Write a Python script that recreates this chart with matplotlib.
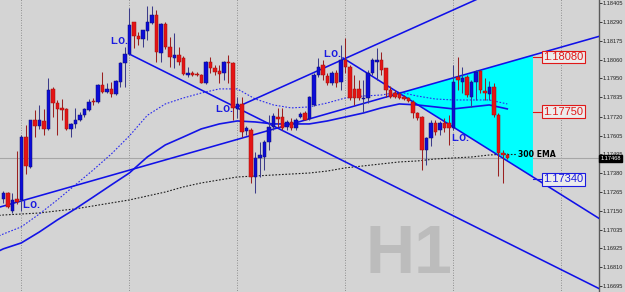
import matplotlib
matplotlib.use("Agg")
import matplotlib.pyplot as plt
import matplotlib.transforms as mtransforms
from matplotlib.patches import Polygon
import numpy as np

# ---------------- data ----------------
bar_index = list(range(-4, 109))
open_ = [1.17221, 1.17257, 1.17148, 1.17221, 1.17215, 1.17596, 1.17415, 1.17699, 1.17663, 1.17693,
         1.17645, 1.17887, 1.17802, 1.17772, 1.17766, 1.17645, 1.17675, 1.17699, 1.17729, 1.17760,
         1.17814, 1.17808, 1.17911, 1.17868, 1.17887, 1.17856, 1.17929, 1.18044, 1.18098, 1.18292,
         1.18207, 1.18189, 1.18237, 1.18286, 1.18334, 1.18104, 1.18280, 1.18141, 1.18074, 1.18092,
         1.18074, 1.17971, 1.17983, 1.17977, 1.17971, 1.17923, 1.18050, 1.18014, 1.17995, 1.17983,
         1.18050, 1.18044, 1.17766, 1.17796, 1.17632, 1.17639, 1.17354, 1.17469, 1.17475, 1.17566,
         1.17657, 1.17717, 1.17717, 1.17657, 1.17687, 1.17651, 1.17717, 1.17741, 1.17705, 1.17790,
         1.17971, 1.18032, 1.17965, 1.17923, 1.17983, 1.17929, 1.18062, 1.18020, 1.17887, 1.17887,
         1.17826, 1.17832, 1.17983, 1.18050, 1.18062, 1.18014, 1.17881, 1.17862, 1.17856, 1.17838,
         1.17832, 1.17808, 1.17741, 1.17717, 1.17518, 1.17590, 1.17681, 1.17639, 1.17681, 1.17681,
         1.17651, 1.17959, 1.17929, 1.17959, 1.17838, 1.17929, 1.17995, 1.17874, 1.17856, 1.17899,
         1.17729, 1.17499, 1.17487]
high = [1.17269, 1.17263, 1.17257, 1.17511, 1.17608, 1.17669, 1.17699, 1.17760, 1.17790, 1.17766,
        1.17953, 1.17899, 1.17820, 1.17826, 1.17772, 1.17681, 1.17772, 1.17747, 1.17772, 1.17826,
        1.17832, 1.17917, 1.17989, 1.17923, 1.17929, 1.17941, 1.18050, 1.18141, 1.18377, 1.18292,
        1.18231, 1.18244, 1.18389, 1.18389, 1.18365, 1.18286, 1.18292, 1.18201, 1.18225, 1.18141,
        1.18086, 1.18020, 1.17995, 1.17989, 1.17977, 1.18056, 1.18080, 1.18032, 1.18032, 1.18056,
        1.18092, 1.18050, 1.17838, 1.17838, 1.17663, 1.17651, 1.17505, 1.17566, 1.17578, 1.17729,
        1.17741, 1.17772, 1.17772, 1.17699, 1.17711, 1.17711, 1.17747, 1.17753, 1.17844, 1.17983,
        1.18074, 1.18062, 1.17983, 1.17995, 1.18002, 1.18153, 1.18195, 1.18032, 1.17971, 1.17941,
        1.17941, 1.18002, 1.18074, 1.18135, 1.18110, 1.18014, 1.17905, 1.17881, 1.17868, 1.17850,
        1.17838, 1.17820, 1.17747, 1.17723, 1.17596, 1.17699, 1.17699, 1.17693, 1.17711, 1.17729,
        1.18032, 1.18080, 1.18020, 1.17971, 1.17941, 1.18002, 1.18002, 1.17953, 1.17935, 1.17923,
        1.17741, 1.17518, 1.17499]
low = [1.17197, 1.17167, 1.17136, 1.17191, 1.17148, 1.17372, 1.17409, 1.17596, 1.17645, 1.17608,
       1.17639, 1.17717, 1.17608, 1.17699, 1.17639, 1.17596, 1.17651, 1.17693, 1.17717, 1.17753,
       1.17790, 1.17802, 1.17862, 1.17862, 1.17838, 1.17850, 1.17899, 1.17899, 1.18092, 1.18135,
       1.18153, 1.18141, 1.18183, 1.18280, 1.18050, 1.18050, 1.18129, 1.18020, 1.18014, 1.18032,
       1.17971, 1.17959, 1.17965, 1.17965, 1.17923, 1.17917, 1.17983, 1.17971, 1.17923, 1.17941,
       1.17923, 1.17699, 1.17711, 1.17596, 1.17608, 1.17318, 1.17257, 1.17354, 1.17397, 1.17518,
       1.17639, 1.17657, 1.17639, 1.17639, 1.17639, 1.17639, 1.17711, 1.17699, 1.17699, 1.17784,
       1.17959, 1.17941, 1.17911, 1.17911, 1.17899, 1.17881, 1.17983, 1.17820, 1.17790, 1.17820,
       1.17747, 1.17802, 1.17971, 1.17941, 1.17971, 1.17838, 1.17832, 1.17832, 1.17826, 1.17820,
       1.17808, 1.17711, 1.17699, 1.17397, 1.17427, 1.17542, 1.17608, 1.17608, 1.17626, 1.17548,
       1.17639, 1.17881, 1.17862, 1.17838, 1.17778, 1.17820, 1.17862, 1.17820, 1.17820, 1.17717,
       1.17360, 1.17318, 1.17463]
close = [1.17257, 1.17173, 1.17215, 1.17203, 1.17596, 1.17421, 1.17699, 1.17663, 1.17699, 1.17645,
         1.17881, 1.17802, 1.17766, 1.17760, 1.17645, 1.17675, 1.17699, 1.17729, 1.17766, 1.17808,
         1.17808, 1.17911, 1.17868, 1.17887, 1.17856, 1.17935, 1.18044, 1.18098, 1.18274, 1.18207,
         1.18189, 1.18244, 1.18292, 1.18334, 1.18110, 1.18280, 1.18141, 1.18080, 1.18092, 1.18050,
         1.17977, 1.17983, 1.17971, 1.17971, 1.17923, 1.18050, 1.18014, 1.17989, 1.17977, 1.18050,
         1.18044, 1.17772, 1.17796, 1.17626, 1.17651, 1.17354, 1.17469, 1.17487, 1.17566, 1.17657,
         1.17723, 1.17705, 1.17651, 1.17687, 1.17651, 1.17699, 1.17735, 1.17699, 1.17838, 1.17971,
         1.18020, 1.17971, 1.17923, 1.17983, 1.17923, 1.18062, 1.18020, 1.17832, 1.17832, 1.17832,
         1.17832, 1.17983, 1.18062, 1.18062, 1.18002, 1.17881, 1.17838, 1.17838, 1.17832, 1.17826,
         1.17814, 1.17741, 1.17711, 1.17518, 1.17590, 1.17681, 1.17626, 1.17681, 1.17651, 1.17651,
         1.17929, 1.17941, 1.17953, 1.17850, 1.17929, 1.17989, 1.17881, 1.17862, 1.17899, 1.17729,
         1.17499, 1.17487, 1.17469]

ma_bars = [-5, -4, 0, 4, 8, 12, 16, 20, 24, 28, 32, 36, 40, 44, 48, 52, 56, 60, 64, 68,
           72, 76, 80, 84, 88, 92, 96, 100, 104, 108]
ma_slow = [1.16906, 1.16919, 1.16955, 1.17021, 1.17094, 1.17161, 1.17233, 1.17306, 1.17378, 1.17475,
           1.17548, 1.17596, 1.17645, 1.17675, 1.17693, 1.17687, 1.17675, 1.17675, 1.17675, 1.17693,
           1.17717, 1.17741, 1.17772, 1.17796, 1.17790, 1.17778, 1.17766, 1.17778, 1.17790, 1.17766]
ma_fast = [1.16997, 1.17009, 1.17052, 1.17130, 1.17215, 1.17306, 1.17397, 1.17493, 1.17602, 1.17727,
           1.17796, 1.17832, 1.17862, 1.17887, 1.17887, 1.17826, 1.17790, 1.17772, 1.17778, 1.17802,
           1.17832, 1.17844, 1.17850, 1.17868, 1.17844, 1.17826, 1.17820, 1.17820, 1.17820, 1.17796]
ema300 = [1.17121, 1.17124, 1.17130, 1.17136, 1.17149, 1.17161, 1.17179, 1.17197, 1.17215, 1.17239,
          1.17263, 1.17294, 1.17318, 1.17336, 1.17354, 1.17360, 1.17366, 1.17372, 1.17378, 1.17390,
          1.17409, 1.17421, 1.17433, 1.17445, 1.17451, 1.17463, 1.17469, 1.17475, 1.17487, 1.17493]

# trend lines: (bar, price) anchor pairs
trend_down_main = [(24, 1.18098), (128, 1.16684)]
trend_up_main = [(0, 1.17209), (128, 1.18202)]
trend_up_steep = [(48, 1.17778), (100, 1.18414)]
trend_down_tri = [(71.5, 1.18074), (128, 1.17110)]
triangle_end = 113.7

lo_labels = [(19.7, 1.18171), (0.15, 1.17179), (43.0, 1.17760), (67.0, 1.18098), (95.5, 1.17584)]
level_values = [1.18080, 1.17750, 1.17340]
level_colors = ["#e01818", "#e01818", "#1a1ae0"]

axis_ticks = [1.18405, 1.18290, 1.18175, 1.18060, 1.17950, 1.17835, 1.17720, 1.17605,
              1.17495, 1.17380, 1.17265, 1.17150, 1.17035, 1.16925, 1.16810, 1.16695]
current_price = 1.17468
day_bars = [0, 24, 48, 72, 96, 120]

# ---------------- figure ----------------
BG = "#d4d4d4"
fig = plt.figure(figsize=(6.25, 2.92), dpi=100)
fig.patch.set_facecolor(BG)
ax = fig.add_axes([0, 0, 599 / 625, 1])
ax.set_facecolor(BG)
ax.set_xlim(-4.733, 128.38)
ax.set_ylim(1.16658, 1.18425)

for s in ["top", "left", "bottom"]:
    ax.spines[s].set_visible(False)
ax.spines["right"].set_color("#5a5a5a")
ax.spines["right"].set_linewidth(1.0)
ax.set_xticks([])
ax.yaxis.tick_right()
ax.set_yticks(axis_ticks)
ax.set_yticklabels([f"{v:.5f}" for v in axis_ticks])
ax.tick_params(axis="y", labelsize=4.1, length=2, width=0.6, pad=0.8,
               colors="#202020", labelfontfamily="Liberation Sans")

# grid (day separators) and current price line
ax.vlines(day_bars, 1.16, 1.19, colors="#7a7a7a", linestyles=(0, (1, 2)), lw=0.6, zorder=1)
ax.axhline(current_price, color="#a6a6a6", lw=0.8, zorder=1)


def line_val(pts, x):
    (x0, y0), (x1, y1) = pts
    return y0 + (y1 - y0) * (x - x0) / (x1 - x0)


# cyan triangle between the two converging lines
(bx0, by0), (bx1, by1) = trend_up_main
(ex0, ey0), (ex1, ey1) = trend_down_tri
sb = (by1 - by0) / (bx1 - bx0)
se = (ey1 - ey0) / (ex1 - ex0)
apex_x = (ey0 - se * ex0 - (by0 - sb * bx0)) / (sb - se)
apex_y = line_val(trend_up_main, apex_x)
tri = Polygon([(apex_x, apex_y),
               (triangle_end, line_val(trend_up_main, triangle_end)),
               (triangle_end, line_val(trend_down_tri, triangle_end))],
              closed=True, facecolor="#00ffff", edgecolor="none", zorder=2)
ax.add_patch(tri)

# moving averages
ax.plot(ma_bars, ema300, color="#1e1e1e", lw=0.8, ls=(0, (1.5, 1.5)), zorder=3)
ax.plot([ma_bars[-1], 110], [ema300[-1], ema300[-1]], color="#1e1e1e", lw=0.8,
        ls=(0, (1.5, 1.5)), zorder=3)
ax.plot(ma_bars, ma_fast, color="#2a2aee", lw=0.8, ls=(0, (1.5, 1.5)), zorder=3)
ax.plot(ma_bars, ma_slow, color="#1414e6", lw=1.2, zorder=3)

# trend lines
TL = "#1010e8"
for pts, xa, xb in [(trend_down_main, 24, 140), (trend_up_main, -8, 140),
                    (trend_up_steep, 48, 120), (trend_down_tri, 71.5, 140)]:
    ax.plot([xa, xb], [line_val(pts, xa), line_val(pts, xb)], color=TL, lw=1.15, zorder=4)

# candles
o = np.array(open_); h = np.array(high); l = np.array(low); c = np.array(close)
x = np.array(bar_index)
up = c >= o
ax.vlines(x[up], l[up], h[up], colors="#3c3c8a", lw=0.75, zorder=5)
ax.vlines(x[~up], l[~up], h[~up], colors="#9a2020", lw=0.75, zorder=5)
body_h = np.maximum(np.abs(c - o), 0.00003)
ax.bar(x[up], body_h[up], bottom=np.minimum(o, c)[up], width=0.78,
       color="#0c0cd8", edgecolor="#101070", lw=0.35, zorder=6)
ax.bar(x[~up], body_h[~up], bottom=np.minimum(o, c)[~up], width=0.78,
       color="#e41414", edgecolor="#a01010", lw=0.35, zorder=6)

# labels
for lx, ly in lo_labels:
    ax.text(lx, ly, "L.O.", color="#1a1ae0", fontsize=5.8, fontweight="bold",
            ha="left", va="center", zorder=7)
ax.text(110.3, ema300[-1], "300 EMA", color="#000000", fontsize=5.6, fontweight="bold",
        ha="left", va="center", zorder=7)
ax.text(76.6, 1.16773, "H1", color="#bcbcbc", fontsize=49, fontweight="bold",
        family="Liberation Sans", ha="left", va="baseline", zorder=1)

for val, col in zip(level_values, level_colors):
    ax.plot([triangle_end, 115.6], [val, val], color=col, lw=0.8, zorder=4)
    ax.text(116.0, val, f"{val:.5f}", color=col, fontsize=8, family="Liberation Sans",
            ha="left", va="center", zorder=8,
            bbox=dict(boxstyle="square,pad=0.12", fc="#ececec", ec=col, lw=0.8))

# current price box on the axis
trans = mtransforms.blended_transform_factory(ax.transAxes, ax.transData)
ax.text(1.002, current_price, f"{current_price:.5f}", transform=trans, color="white",
        fontsize=4.1, family="Liberation Sans", ha="left", va="center", zorder=9,
        bbox=dict(boxstyle="square,pad=0.2", fc="black", ec="black"), clip_on=False)

fig.savefig("out.png", dpi=100, facecolor=BG)
